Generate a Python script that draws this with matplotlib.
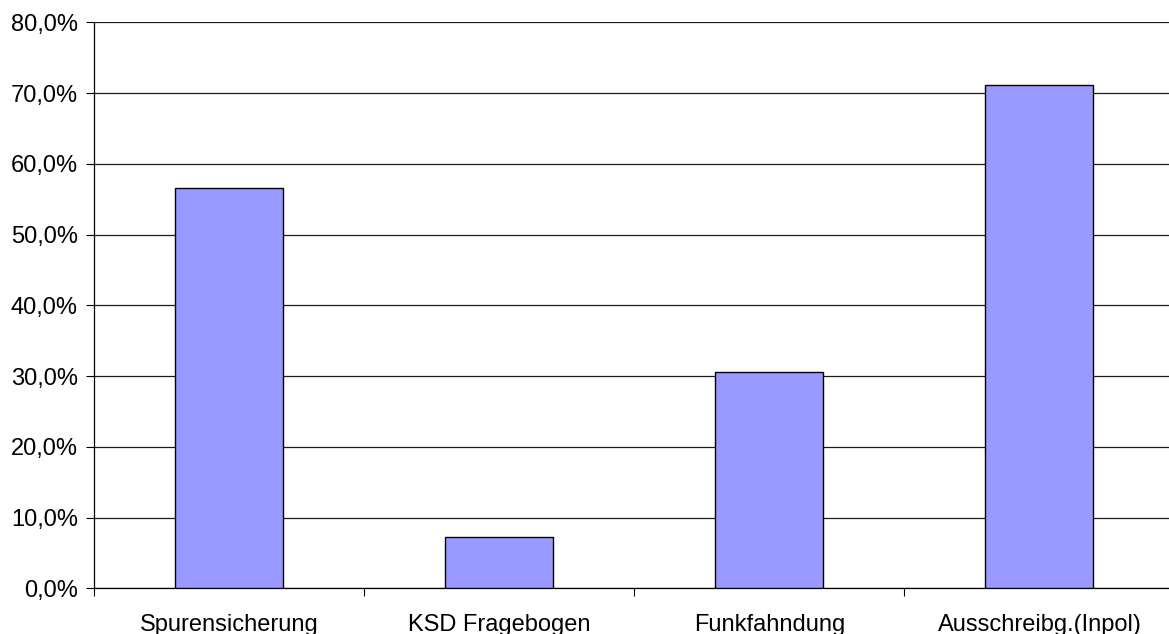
import numpy as np
import matplotlib
matplotlib.use("Agg")
import matplotlib.pyplot as plt

# ------------------------------------------------------------------
# Data
# ------------------------------------------------------------------

CATEGORIES = [
    "Spurensicherung",
    "KSD Fragebogen",
    "Funkfahndung",
    "Ausschreibg.(Inpol)",
]
VALUES = [56.6, 7.3, 30.6, 71.2]  # percent
Y_TICKS = [0, 10, 20, 30, 40, 50, 60, 70, 80]
Y_TICK_LABELS = ["0,0%", "10,0%", "20,0%", "30,0%", "40,0%",
                 "50,0%", "60,0%", "70,0%", "80,0%"]

BAR_COLOR = "#9999FF"

plt.rcParams["font.family"] = ["Liberation Sans", "DejaVu Sans"]

fig = plt.figure(figsize=(11.69, 6.34), dpi=100)
# axes runs a little past the right edge, as in the original
ax = fig.add_axes([0.0808, 0.0718, 0.9239, 0.893])

x = np.arange(len(CATEGORIES))
ax.bar(x, VALUES, width=0.4, color=BAR_COLOR, edgecolor="black",
       linewidth=1.0, zorder=3)

ax.set_xlim(-0.5, len(CATEGORIES) - 0.5)
ax.set_ylim(0, 80)

ax.set_yticks(Y_TICKS)
ax.set_yticklabels(Y_TICK_LABELS)
ax.yaxis.grid(True, color="#1a1a1a", linewidth=0.9, zorder=0)

# boundary ticks, labels in the middle of each slot
ax.set_xticks(np.arange(-0.5, len(CATEGORIES), 1.0))
ax.set_xticklabels([])
ax.set_xticks(x, minor=True)
ax.set_xticklabels(CATEGORIES, minor=True)

ax.tick_params(axis="y", length=6, width=0.8, pad=6, labelsize=17)
ax.tick_params(axis="x", which="major", length=5.5, width=0.8)
ax.tick_params(axis="x", which="minor", length=0, pad=18.5, labelsize=17)

for side in ("top", "right"):
    ax.spines[side].set_visible(False)
ax.spines["left"].set_linewidth(0.9)
ax.spines["bottom"].set_linewidth(0.9)

fig.savefig("out.png", dpi=100)
